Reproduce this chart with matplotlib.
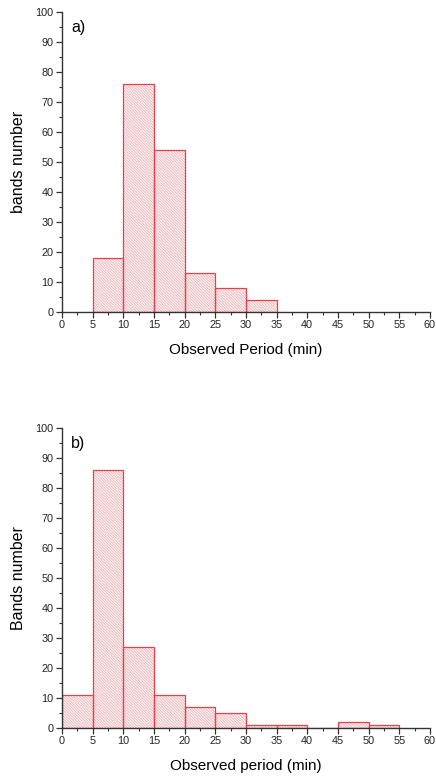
import numpy as np
import matplotlib
matplotlib.use("Agg")
import matplotlib.pyplot as plt
from matplotlib.ticker import MultipleLocator

plt.rcParams['font.family'] = ['Liberation Sans', 'DejaVu Sans']
plt.rcParams['hatch.linewidth'] = 0.6

# bin edges (min) and counts
edges_a = [5, 10, 15, 20, 25, 30, 35]
counts_a = [18, 76, 54, 13, 8, 4]
edges_b = [0, 5, 10, 15, 20, 25, 30, 35, 40, 45, 50, 55]
counts_b = [11, 86, 27, 11, 7, 5, 1, 1, 0, 2, 1]

panels = [
    ("a)", edges_a, counts_a, "Observed Period (min)", "bands number", 0.6005),
    ("b)", edges_b, counts_b, "Observed period (min)", "Bands number", 0.0679),
]

fig = plt.figure(figsize=(4.36, 7.81), dpi=100)
axis_col = '#333333'

for tag, edges, counts, xlab, ylab, bottom in panels:
    ax = fig.add_axes([0.142, bottom, 0.844, 0.384])
    left = np.array(edges[:-1])
    widths = np.diff(edges)
    # light hatch first, then the red outline on top
    ax.bar(left, counts, width=widths, align='edge', facecolor='white',
           edgecolor='#f4a6ab', linewidth=0, hatch='\\' * 12)
    ax.bar(left, counts, width=widths, align='edge', fill=False,
           edgecolor='#e8404a', linewidth=0.9)
    ax.set_xlim(0, 60)
    ax.set_ylim(0, 100)
    ax.xaxis.set_major_locator(MultipleLocator(5))
    ax.xaxis.set_minor_locator(MultipleLocator(2.5))
    ax.yaxis.set_major_locator(MultipleLocator(10))
    ax.yaxis.set_minor_locator(MultipleLocator(5))
    for s in ['top', 'right']:
        ax.spines[s].set_visible(False)
    for s in ['left', 'bottom']:
        ax.spines[s].set_color(axis_col)
        ax.spines[s].set_linewidth(1.0)
    ax.tick_params(which='major', direction='out', length=4, width=0.9,
                   color=axis_col, labelsize=7.8, labelcolor='#222222', pad=2)
    ax.tick_params(which='minor', direction='out', length=2, width=0.8, color=axis_col)
    ax.set_xlabel(xlab, fontsize=11, labelpad=9)
    ax.set_ylabel(ylab, fontsize=11.5, labelpad=7)
    ax.text(1.5, 95, tag, fontsize=11.5, va='center', ha='left')

fig.savefig("out.png", dpi=100)
